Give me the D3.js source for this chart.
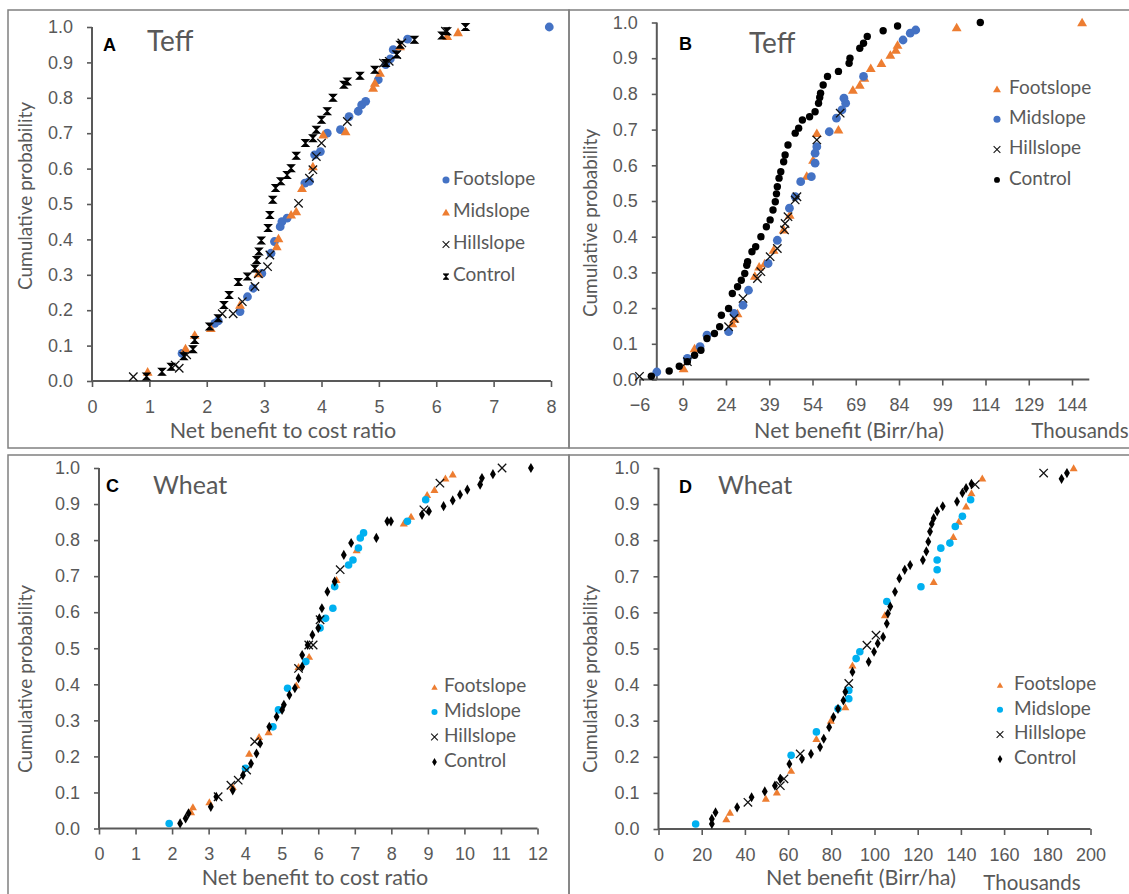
<!DOCTYPE html>
<html>
<head>
<meta charset="utf-8">
<script src="https://cdn.jsdelivr.net/npm/d3@7"></script>
<style>
body { margin: 0; background: #fff; }
svg { display: block; font-family: Lato, "Open Sans", sans-serif; }
</style>
</head>
<body>
<svg id="chart" width="1129" height="894"></svg>
<script>
// --- data: [value, cumulative probability] ---
var yTicks = [0, 0.1, 0.2, 0.3, 0.4, 0.5, 0.6, 0.7, 0.8, 0.9, 1.0];
var ticksA = [0, 1, 2, 3, 4, 5, 6, 7, 8];
var ticksB = [-6, 9, 24, 39, 54, 69, 84, 99, 114, 129, 144];
var ticksC = [0, 1, 2, 3, 4, 5, 6, 7, 8, 9, 10, 11, 12];
var ticksD = [0, 20, 40, 60, 80, 100, 120, 140, 160, 180, 200];

// A  Teff, net benefit to cost ratio
var aFoot = [[1.57,0.078],[2.14,0.163],[2.2,0.17],[2.58,0.196],[2.71,0.238],[2.81,0.262],[2.96,0.304],[3.12,0.361],[3.18,0.394],[3.28,0.436],[3.31,0.45],[3.4,0.46],[3.71,0.559],[3.79,0.564],[3.88,0.639],[3.98,0.648],[4.1,0.7],[4.33,0.71],[4.48,0.747],[4.64,0.762],[4.7,0.78],[4.77,0.79],[4.99,0.851],[5.12,0.894],[5.2,0.91],[5.25,0.936],[5.5,0.966],[7.97,1.0]];
var aMid = [[0.97,0.026],[1.63,0.092],[1.79,0.13],[2.07,0.149],[2.58,0.215],[2.9,0.304],[3.22,0.38],[3.25,0.403],[3.47,0.47],[3.56,0.479],[3.66,0.545],[3.85,0.606],[4.03,0.696],[4.42,0.705],[4.9,0.828],[4.93,0.842],[5.02,0.87],[5.37,0.945],[6.19,0.974],[6.38,0.985]];
var aHill = [[0.72,0.012],[1.45,0.045],[1.52,0.036],[1.65,0.074],[2.27,0.19],[2.46,0.19],[2.62,0.224],[2.84,0.267],[2.9,0.303],[3.06,0.323],[3.1,0.356],[3.6,0.502],[3.79,0.573],[3.85,0.597],[3.91,0.634],[4.0,0.672],[4.45,0.733],[5.08,0.898],[5.18,0.903],[5.31,0.922],[5.4,0.955],[6.16,0.988]];
var aCtrl = [[0.95,0.013],[1.22,0.026],[1.38,0.04],[1.6,0.07],[1.76,0.09],[1.79,0.116],[2.05,0.154],[2.2,0.177],[2.3,0.215],[2.39,0.243],[2.55,0.28],[2.71,0.295],[2.84,0.318],[2.87,0.342],[2.91,0.366],[2.95,0.397],[3.07,0.432],[3.1,0.469],[3.15,0.512],[3.2,0.545],[3.29,0.564],[3.4,0.582],[3.47,0.601],[3.56,0.636],[3.72,0.672],[3.85,0.686],[3.91,0.71],[4.0,0.738],[4.1,0.762],[4.2,0.8],[4.39,0.837],[4.45,0.846],[4.67,0.862],[4.93,0.879],[5.12,0.898],[5.31,0.922],[5.37,0.95],[5.62,0.964],[6.1,0.976],[6.19,0.988],[6.51,1.0]];

// B  Teff, net benefit (thousand Birr/ha)
var bFoot = [[9.3,0.031],[13.1,0.087],[26.2,0.157],[27,0.17],[28,0.185],[34,0.29],[35.5,0.316],[37.4,0.325],[40.5,0.363],[44,0.42],[46.1,0.461],[52,0.57],[54.2,0.615],[55.5,0.69],[63,0.7],[68,0.811],[70.4,0.825],[72,0.845],[74.2,0.872],[77.9,0.886],[81,0.909],[82.9,0.923],[83.5,0.937],[104,0.986],[147.5,1.0]];
var bMid = [[0,0.021],[10.6,0.059],[15,0.092],[17.4,0.124],[24.9,0.134],[26.8,0.185],[29.9,0.208],[31.8,0.25],[38.6,0.325],[41.8,0.39],[46,0.48],[48,0.512],[49.9,0.554],[53.6,0.568],[54.9,0.606],[54.9,0.634],[55.5,0.652],[59.8,0.694],[62.3,0.732],[64.2,0.755],[65.5,0.774],[64.9,0.788],[71.7,0.849],[85.4,0.951],[87.9,0.97],[89.8,0.979]];
var bHill = [[-6,0.009],[10.6,0.05],[24.9,0.148],[26.8,0.171],[29.9,0.227],[34.9,0.283],[36.1,0.302],[39.3,0.344],[41.8,0.367],[44.3,0.419],[44.5,0.437],[45.5,0.456],[48,0.503],[48.6,0.512],[55.5,0.671],[63.6,0.746]];
var bCtrl = [[-1.9,0.009],[4.3,0.024],[7.8,0.037],[10.6,0.05],[13.1,0.068],[15.3,0.082],[17.4,0.115],[20,0.129],[21.8,0.148],[22.4,0.18],[24.9,0.199],[26.2,0.241],[28,0.26],[29.3,0.278],[30.5,0.297],[31.2,0.32],[31.5,0.33],[33,0.358],[34.3,0.372],[36.1,0.4],[38,0.428],[39.3,0.447],[40.3,0.475],[41.1,0.498],[41.5,0.52],[41.8,0.54],[42.4,0.564],[43,0.582],[44,0.61],[44.5,0.629],[45.5,0.657],[48,0.69],[49.2,0.704],[50.5,0.727],[53,0.736],[54.9,0.75],[56.1,0.774],[56.5,0.79],[56.8,0.802],[57.7,0.825],[59.2,0.849],[63,0.863],[66.7,0.886],[67,0.9],[70.4,0.928],[71.7,0.942],[73,0.961],[78.5,0.977],[83.5,0.99],[112.2,1.0]];

// C  Wheat, net benefit to cost ratio
var cFoot = [[2.52,0.046],[2.57,0.06],[3.02,0.074],[3.66,0.116],[4.11,0.208],[4.38,0.255],[4.64,0.268],[5.4,0.398],[5.46,0.449],[5.75,0.477],[6.5,0.69],[7.05,0.773],[8.34,0.847],[8.54,0.866],[8.98,0.926],[9.18,0.94],[9.48,0.972],[9.68,0.983]];
var cMid = [[1.92,0.014],[4.01,0.167],[4.76,0.282],[4.91,0.329],[5.16,0.389],[5.66,0.463],[6.05,0.556],[6.2,0.583],[6.4,0.611],[6.45,0.671],[6.83,0.731],[6.95,0.745],[7.1,0.778],[7.15,0.806],[7.24,0.82],[8.44,0.852],[8.94,0.912]];
var cHill = [[3.26,0.088],[3.61,0.12],[3.81,0.134],[4.04,0.162],[4.26,0.241],[5.46,0.444],[5.74,0.509],[5.86,0.509],[6.05,0.579],[6.6,0.718],[8.89,0.884],[9.33,0.958],[11.03,1.0]];
var cCtrl = [[2.22,0.014],[2.37,0.028],[2.45,0.042],[3.06,0.06],[3.21,0.088],[3.66,0.106],[3.94,0.148],[4.16,0.18],[4.31,0.208],[4.41,0.236],[4.66,0.282],[4.86,0.31],[5.01,0.329],[5.06,0.343],[5.21,0.37],[5.36,0.389],[5.46,0.417],[5.56,0.449],[5.56,0.481],[5.71,0.509],[5.84,0.537],[6.0,0.556],[6.03,0.583],[6.1,0.611],[6.25,0.657],[6.45,0.685],[6.7,0.759],[6.9,0.792],[7.59,0.806],[7.89,0.852],[7.99,0.852],[8.84,0.87],[9.03,0.88],[9.43,0.894],[9.68,0.91],[9.88,0.926],[10.08,0.94],[10.43,0.954],[10.48,0.972],[10.78,0.983],[11.82,1.0]];

// D  Wheat, net benefit (thousand Birr/ha)
var dFoot = [[31.4,0.028],[33.1,0.046],[49.7,0.085],[54.8,0.102],[61.4,0.162],[73.1,0.25],[79.8,0.301],[86.5,0.338],[89.8,0.454],[104.8,0.593],[127.4,0.685],[136.5,0.81],[139,0.852],[142.4,0.894],[144.9,0.931],[149.9,0.972],[192.2,1.0]];
var dMid = [[17.2,0.014],[61.4,0.204],[73.1,0.269],[83.1,0.333],[88.1,0.361],[88.1,0.384],[91.5,0.472],[93.2,0.491],[105.7,0.63],[121.5,0.671],[129,0.718],[129,0.745],[130.7,0.778],[134.9,0.792],[137.4,0.838],[140.7,0.866],[144.5,0.912]];
var dHill = [[41.4,0.074],[56.4,0.12],[58.1,0.139],[65.6,0.208],[88.1,0.403],[96.5,0.509],[100.7,0.537],[146.6,0.954],[178.3,0.986]];
var dCtrl = [[24.7,0.014],[24.7,0.028],[26.4,0.046],[36.4,0.06],[43.1,0.088],[49.2,0.104],[53.9,0.12],[56.4,0.139],[60.6,0.18],[66.4,0.194],[70.6,0.208],[74.8,0.227],[76.5,0.25],[79,0.282],[81,0.31],[83.1,0.333],[85.6,0.356],[86.5,0.38],[89.8,0.435],[97.3,0.463],[99.8,0.491],[101.5,0.514],[104,0.532],[105.7,0.569],[106.2,0.597],[107.3,0.616],[109.5,0.657],[111.5,0.694],[114,0.718],[116.5,0.731],[122.4,0.745],[124,0.769],[124.9,0.796],[125.7,0.824],[126.5,0.845],[127.4,0.861],[129,0.88],[131.6,0.894],[138.2,0.907],[140.7,0.931],[142.4,0.944],[144.9,0.956],[186.6,0.97],[189.1,0.986]];

var BLUE = "#4472C4", ORANGE = "#ED7D31", CYAN = "#00B0F0", GREY = "#595959";

var svg = d3.select("#chart");
svg.append("rect").attr("width", 1129).attr("height", 894).attr("fill", "#fff");

// panel frames
[[8, 10, 561, 438], [569, 10, 570, 438], [8, 455, 561, 450], [569, 455, 570, 450]].forEach(function(r) {
	svg.append("rect").attr("x", r[0]).attr("y", r[1]).attr("width", r[2]).attr("height", r[3])
		.attr("fill", "none").attr("stroke", "#808080").attr("stroke-width", 1.5);
});

function hourglass(s) {
	return "M" + (-s) + "," + (-s) + "L" + s + "," + (-s) + "L" + (-s) + "," + s + "L" + s + "," + s + "Z";
}
function cross(s) {
	return "M" + (-s) + "," + (-s) + "L" + s + "," + s + "M" + (-s) + "," + s + "L" + s + "," + (-s);
}

// k scales the marker (legend markers are a little smaller)
function drawMarker(g, kind, x, y, k) {
	k = k || 1;
	var t = "translate(" + x + "," + y + ") scale(" + k + ")";
	if (kind == "circle") {
		g.append("circle").attr("cx", x).attr("cy", y).attr("r", 4.4 * k).attr("fill", BLUE);
	} else if (kind == "circleCyan") {
		g.append("circle").attr("cx", x).attr("cy", y).attr("r", 3.8 * k).attr("fill", CYAN);
	} else if (kind == "dot") {
		g.append("circle").attr("cx", x).attr("cy", y).attr("r", 3.7 * k).attr("fill", "#000");
	} else if (kind == "tri") {
		g.append("path").attr("d", d3.symbol(d3.symbolTriangle, 42)()).attr("fill", ORANGE)
			.attr("transform", "translate(" + x + "," + (y + 1) + ") scale(" + k + ")");
	} else if (kind == "triSmall") {
		g.append("path").attr("d", d3.symbol(d3.symbolTriangle, 28)()).attr("fill", ORANGE)
			.attr("transform", "translate(" + x + "," + (y + 1) + ") scale(" + k + ")");
	} else if (kind == "diamond") {
		g.append("path").attr("d", d3.symbol(d3.symbolDiamond, 30)()).attr("fill", "#000")
			.attr("transform", t);
	} else if (kind == "hourglass") {
		g.append("path").attr("d", hourglass(3.4)).attr("fill", "#000").attr("stroke", "#000")
			.attr("stroke-width", 1.2).attr("transform", t);
	} else {
		g.append("path").attr("d", cross(4.2)).attr("fill", "none").attr("stroke", "#111")
			.attr("stroke-width", 1.3).attr("transform", t);
	}
}

var panels = [
	{ letter: "A", crop: "Teff", cropSize: 28, xd: [0, 8], xr: [92, 551], yr: [381, 27], ticks: ticksA,
	  title: "Net benefit to cost ratio", titleX: 283, titleY: 433, yTitleX: 27, yTitleY: 196,
	  letterX: 103, letterY: 51, cropX: 147, cropY: 51,
	  legend: { x: 446, y0: 180, dy: 32.2, tx: 453 }, thousands: null,
	  series: [
		{ name: "Footslope", data: aFoot, mark: "circle" },
		{ name: "Midslope", data: aMid, mark: "tri" },
		{ name: "Hillslope", data: aHill, mark: "cross" },
		{ name: "Control", data: aCtrl, mark: "hourglass" }] },
	{ letter: "B", crop: "Teff", cropSize: 28, xd: [-6, 150], xr: [639.5, 1089.3], yr: [379.5, 22.5], ticks: ticksB,
	  title: "Net benefit (Birr/ha)", titleX: 849, titleY: 433, yTitleX: 592, yTitleY: 223,
	  letterX: 679, letterY: 50, cropX: 749, cropY: 53,
	  legend: { x: 997, y0: 89, dy: 30.3, tx: 1009 }, thousands: [1080, 433],
	  series: [
		{ name: "Footslope", data: bFoot, mark: "tri" },
		{ name: "Midslope", data: bMid, mark: "circle" },
		{ name: "Hillslope", data: bHill, mark: "cross" },
		{ name: "Control", data: bCtrl, mark: "dot" }] },
	{ letter: "C", crop: "Wheat", cropSize: 25, xd: [0, 12], xr: [99, 537.5], yr: [828.5, 468], ticks: ticksC,
	  title: "Net benefit to cost ratio", titleX: 315, titleY: 880, yTitleX: 27, yTitleY: 679,
	  letterX: 106, letterY: 492, cropX: 153, cropY: 494,
	  legend: { x: 434.5, y0: 687, dy: 25, tx: 444 }, thousands: null,
	  series: [
		{ name: "Footslope", data: cFoot, mark: "triSmall" },
		{ name: "Midslope", data: cMid, mark: "circleCyan" },
		{ name: "Hillslope", data: cHill, mark: "cross" },
		{ name: "Control", data: cCtrl, mark: "diamond" }] },
	{ letter: "D", crop: "Wheat", cropSize: 25, xd: [0, 200], xr: [658.5, 1090.5], yr: [829, 468], ticks: ticksD,
	  title: "Net benefit (Birr/ha)", titleX: 861, titleY: 880, yTitleX: 592, yTitleY: 679,
	  letterX: 679, letterY: 493, cropX: 718, cropY: 494,
	  legend: { x: 1000, y0: 685, dy: 24.7, tx: 1014 }, thousands: [1032, 885],
	  series: [
		{ name: "Footslope", data: dFoot, mark: "triSmall" },
		{ name: "Midslope", data: dMid, mark: "circleCyan" },
		{ name: "Hillslope", data: dHill, mark: "cross" },
		{ name: "Control", data: dCtrl, mark: "diamond" }] }
];

panels.forEach(function(p) {
	var x = d3.scaleLinear().domain(p.xd).range(p.xr);
	var y = d3.scaleLinear().domain([0, 1]).range(p.yr);
	var g = svg.append("g");

	// vertical axis crosses at x = 0
	var yAxis = g.append("g").attr("transform", "translate(" + x(0) + ",0)")
		.call(d3.axisLeft(y).tickValues(yTicks).tickFormat(d3.format(".1f")).tickSize(5).tickPadding(14));
	var xAxis = g.append("g").attr("transform", "translate(0," + y(0) + ")")
		.call(d3.axisBottom(x).tickValues(p.ticks).tickSize(6).tickPadding(13));
	[yAxis, xAxis].forEach(function(a) {
		a.select(".domain").attr("stroke", GREY).attr("stroke-width", 2);
		a.selectAll(".tick line").attr("stroke", GREY).attr("stroke-width", 1.6);
		a.selectAll(".tick text").attr("fill", GREY).style("font-size", "18px");
	});
	xAxis.select(".domain").attr("d", "M" + p.xr[0] + ",0H" + p.xr[1]);
	yAxis.select(".domain").attr("d", "M0," + p.yr[0] + "V" + p.yr[1]);

	g.append("text").attr("x", p.titleX).attr("y", p.titleY).attr("text-anchor", "middle")
		.attr("dominant-baseline", "middle").attr("fill", GREY).style("font-size", "21.5px").text(p.title);
	g.append("text").attr("transform", "translate(" + p.yTitleX + "," + p.yTitleY + ") rotate(-90)")
		.attr("text-anchor", "middle").attr("dominant-baseline", "middle").attr("fill", GREY)
		.style("font-size", "19px").text("Cumulative probability");
	if (p.thousands) {
		g.append("text").attr("x", p.thousands[0]).attr("y", p.thousands[1]).attr("text-anchor", "middle")
			.attr("dominant-baseline", "middle").attr("fill", GREY).style("font-size", "20.5px").text("Thousands");
	}
	g.append("text").attr("x", p.letterX).attr("y", p.letterY).attr("fill", "#000")
		.style("font-family", "Liberation Sans, Arial, sans-serif").style("font-weight", "bold")
		.style("font-size", "18px").text(p.letter);
	g.append("text").attr("x", p.cropX).attr("y", p.cropY).attr("fill", GREY)
		.style("font-size", p.cropSize + "px").text(p.crop);

	// points, series in order so Control lands on top
	p.series.forEach(function(s) {
		var sg = g.append("g");
		s.data.forEach(function(d) {
			drawMarker(sg, s.mark, x(d[0]), y(d[1]));
		});
	});

	// legend
	p.series.forEach(function(s, i) {
		var ly = p.legend.y0 + i * p.legend.dy;
		drawMarker(g, s.mark, p.legend.x, ly, 0.8);
		g.append("text").attr("x", p.legend.tx).attr("y", ly).attr("dominant-baseline", "middle")
			.attr("fill", GREY).style("font-size", "19px").text(s.name);
	});
});
</script>
</body>
</html>
